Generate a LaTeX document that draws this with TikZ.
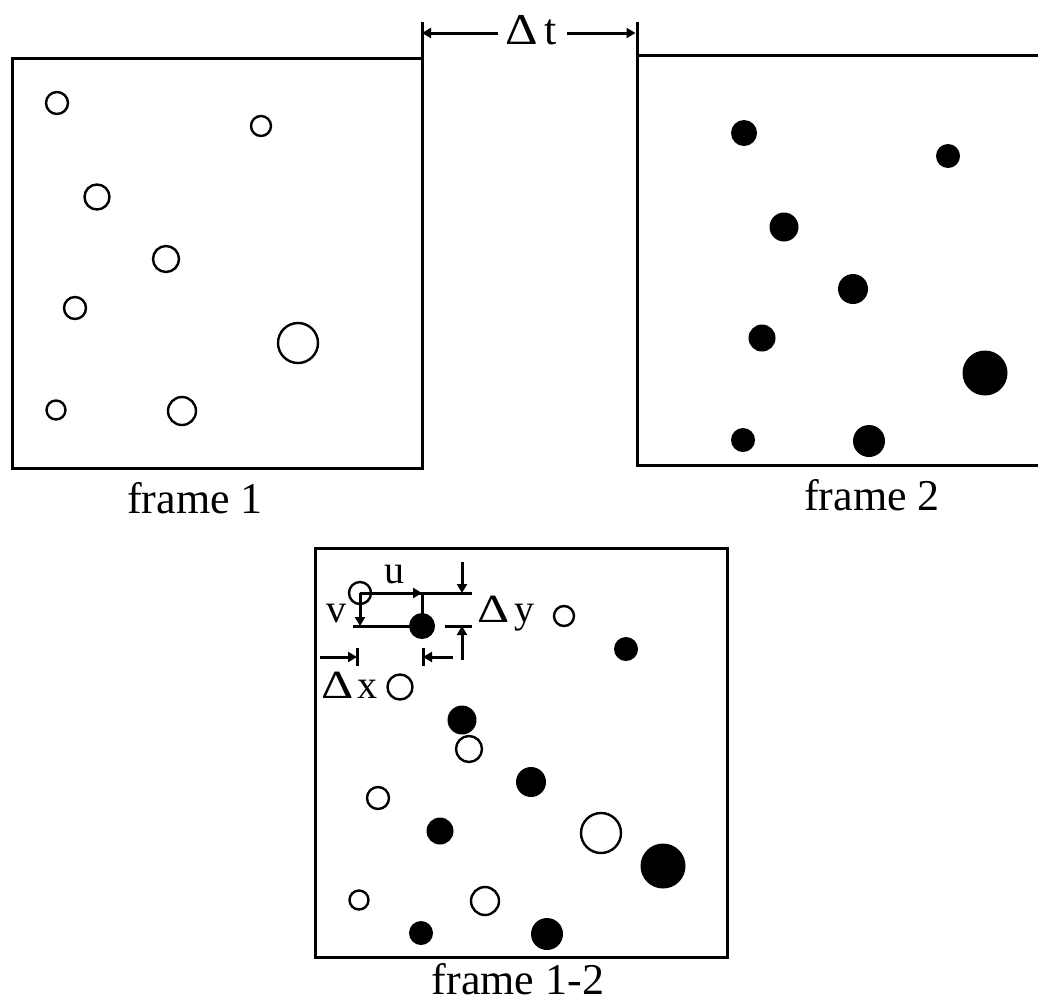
\documentclass[tikz,border=0pt]{standalone}
\usepackage{fontspec}
\setmainfont{Liberation Serif}
\usetikzlibrary{arrows.meta}
\newcommand{\wideD}[1]{\scalebox{#1}[1]{Δ}}
\begin{document}
\begin{tikzpicture}[x=1pt,y=-1pt,
  frameline/.style={line width=3pt},
  opn/.style={circle,draw,line width=2.4pt,inner sep=0pt,minimum size=2*#1*1pt},
  ful/.style={circle,fill,inner sep=0pt,minimum size=2*#1*1pt},
  lbl/.style={font=\fontsize{40}{42}\selectfont,inner sep=0pt},
  big/.style={font=\fontsize{44}{48}\selectfont,inner sep=0pt},
  ln/.style={line width=3pt},
  arr/.style={line width=3pt,-{Triangle[length=9pt,width=10pt]}},
  ]
\useasboundingbox (0,0) rectangle (1038,1005);
\clip (0,0) rectangle (1038,1005);
% frames
\draw[frameline] (12,58) rectangle (422,468);
\draw[frameline] (637,55) rectangle (1050,465);
\draw[frameline] (315,548) rectangle (727,957);
\coordinate (f1top) at (422,22);
\coordinate (f2top) at (637,22);
\draw[frameline] (422,58) -- (f1top);
\draw[frameline] (637,55) -- (f2top);
% particles
\foreach \i/\x/\y/\r/\R in {1/45/45/11/13, 2/249/68/10/12, 3/85/139/12.5/14.5,
    4/154/201/13/15, 5/63/250/11/13.5, 6/286/285/20/22.5, 7/44/352/9.5/12, 8/170/353/14/16}{
  \node[opn=\r] (a\i) at (12+\x,58+\y) {};
  \node[ful=\R] (b\i) at (637+62+\x,55+33+\y) {};
  \node[opn=\r] (c\i) at (315+\x,548+\y) {};
  \node[ful=\R] (d\i) at (315+62+\x,548+33+\y) {};
}
% Delta t
\node[big,anchor=base] (dt) at (531,44) {\wideD{1.15}\kern6pt t};
\coordinate (dtl) at (498,33);
\coordinate (dtr) at (567,33);
\draw[arr] (dtl) -- (f1top |- dtl);
\draw[arr] (dtr) -- ([xshift=-1.5pt]f2top |- dtr);
% labels
\node[big,anchor=base] (l1) at (195,513) {frame 1};
\node[big,anchor=base] (l2) at (872,510) {frame 2};
\node[big,anchor=base] (l3) at (518,994) {frame 1-2};
% u, v construction
\coordinate (uend) at (d1.center |- c1.center);
\coordinate (topext) at (472,0 |- c1.center);
\coordinate (vstart) at (353,0 |- d1.center);
\draw[ln] (c1.center) -- (topext);
\draw[arr] (c1.center) -- (uend);
\draw[ln] (uend) -- (d1.center);
\draw[ln] (vstart) -- (d1.center);
\draw[arr] (c1.center) -- (c1.center |- d1.center);
\node[lbl,anchor=base] (u) at (394,583) {u};
\node[lbl,anchor=base] (v) at (336,622) {v};
% Delta y
\coordinate (dyx) at (462,0);
\coordinate (dytop) at (462,562);
\coordinate (dybot) at (462,660);
\coordinate (botextL) at (445,0 |- d1.center);
\coordinate (botextR) at (472,0 |- d1.center);
\draw[ln] (botextL) -- (botextR);
\draw[arr] (dytop) -- (dyx |- c1.center);
\draw[arr] (dybot) -- (dyx |- d1.center);
\node[lbl,anchor=base west] (dy) at (477,622) {\wideD{1.25}\kern5pt y};
% Delta x
\coordinate (dxL) at (320,657);
\coordinate (dxR) at (453,657);
\coordinate (barL) at (357,657);
\coordinate (barR) at (423,657);
\draw[arr] (dxL) -- (barL);
\draw[arr] (dxR) -- (barR);
\draw[ln] ([yshift=-9pt]barL) -- ([yshift=9pt]barL);
\draw[ln] ([yshift=-9pt]barR) -- ([yshift=9pt]barR);
\node[lbl,anchor=base west] (dx) at (321,698) {\wideD{1.25}\kern4pt x};
\end{tikzpicture}
\end{document}
